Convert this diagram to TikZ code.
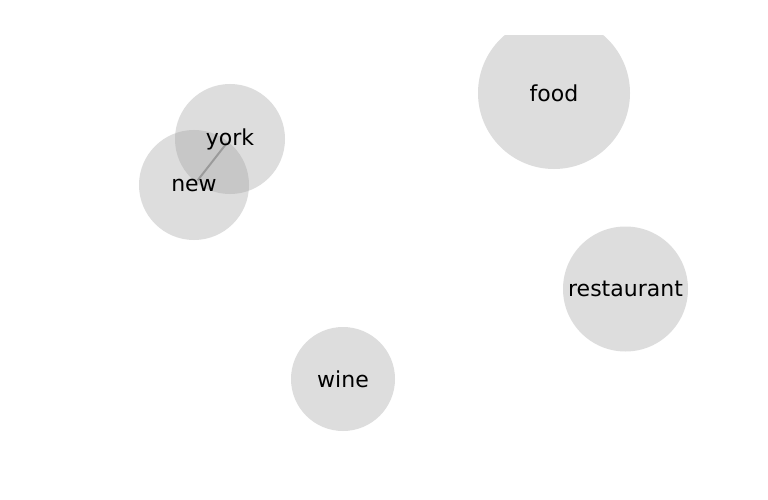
\documentclass[tikz,border=0pt]{standalone}
\usepackage{fontspec}
\setmainfont{DejaVu Sans}
\definecolor{bubble}{RGB}{158,158,158}
\definecolor{edgegray}{RGB}{150,150,150}
\tikzset{
  bubble/.style={circle, fill=bubble, fill opacity=0.35, text opacity=1, inner sep=0pt, minimum size=#1},
  word/.style={font=\fontsize{22}{26}\selectfont, text=black, inner sep=0pt},
  link/.style={draw=edgegray, line width=2pt, opacity=0.9}
}
\begin{document}
\begin{tikzpicture}[x=1pt,y=-1pt]
\useasboundingbox (0,0) rectangle (768,500);
\fill[white] (0,0) rectangle (768,500);
\begin{scope}
  \clip (0,36) rectangle (768,500);
  \node[bubble=152pt] (food) at (554,93) {};
\end{scope}
\node[bubble=110pt] (york) at (230,139) {};
\node[bubble=110pt] (new) at (194,185) {};
\node[bubble=125pt] (restaurant) at (625.5,289) {};
\node[bubble=104pt] (wine) at (343,379) {};
\draw[link, shorten <=6pt, shorten >=5pt] (new.center) -- (york.center);
\node[word] (tfood) at (food.center) {food};
\node[word] (tyork) at (york.center) {york};
\node[word] (tnew) at (new.center) {new};
\node[word] (trest) at (restaurant.center) {restaurant};
\node[word] (twine) at (wine.center) {wine};
\end{tikzpicture}
\end{document}
